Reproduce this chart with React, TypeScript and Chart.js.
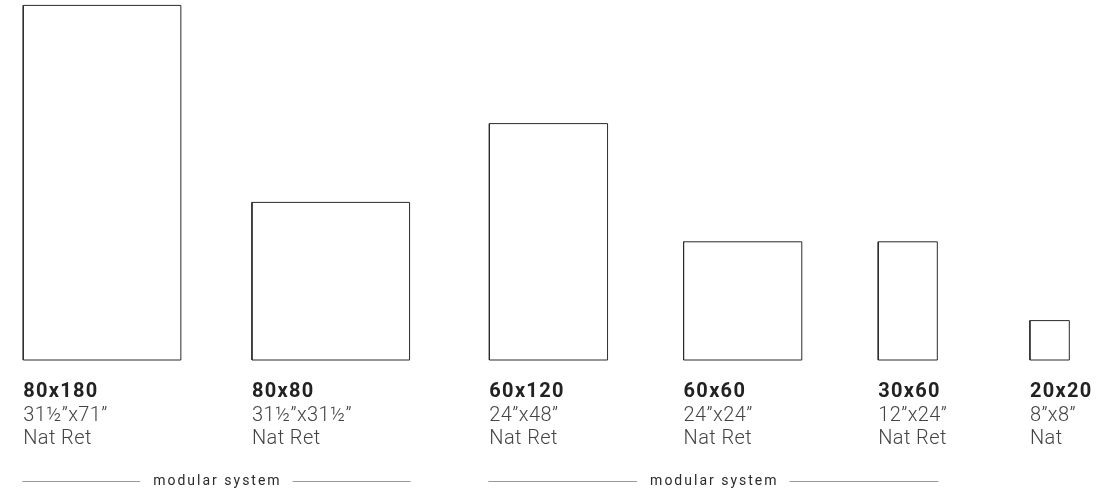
import React, { useEffect, useRef } from "react";
import { Chart, registerables } from "chart.js";

Chart.register(...registerables);

// Tile formats (cm)
const formats = ["80x180", "80x80", "60x120", "60x60", "30x60", "20x20"];
const widthsCm = [80, 80, 60, 60, 30, 20];
const heightsCm = [180, 80, 120, 60, 60, 20];
const inches = ["31½\u201dx71\u201d", "31½\u201dx31½\u201d", "24\u201dx48\u201d", "24\u201dx24\u201d", "12\u201dx24\u201d", "8\u201dx8\u201d"];
const finishes = ["Nat Ret", "Nat Ret", "Nat Ret", "Nat Ret", "Nat Ret", "Nat"];
// left edge of each tile slot along the x axis (cm units)
const slotStart = [11.8, 127.9, 248.4, 347.0, 445.8, 522.8];

// grouping brackets under the labels
const groupLabels = ["modular system", "modular system"];
const groupFirst = [0, 2];
const groupLast = [1, 4];

const W = 1113;
const H = 496;
const PX_PER_CM = 1.97;
const BASE_PX = 360;

const labelPlugin = {
  id: "tileLabels",
  afterDraw(chart: any) {
    const ctx = chart.ctx as CanvasRenderingContext2D;
    const xs = chart.scales.x;
    const ys = chart.scales.y;
    const base = ys.getPixelForValue(0);
    ctx.save();
    ctx.textAlign = "left";
    ctx.textBaseline = "alphabetic";
    for (let i = 0; i < formats.length; i++) {
      const x = xs.getPixelForValue(slotStart[i]);
      ctx.fillStyle = "#222";
      ctx.font = "bold 20px Roboto, 'Liberation Sans', sans-serif";
      (ctx as any).letterSpacing = "1.3px";
      ctx.fillText(formats[i], x, base + 37);
      ctx.fillStyle = "#444";
      ctx.font = "300 20px Roboto, 'Liberation Sans', sans-serif";
      (ctx as any).letterSpacing = "0.4px";
      ctx.fillText(inches[i], x, base + 61);
      ctx.fillText(finishes[i], x, base + 84);
    }
    // group brackets
    ctx.font = "14px Roboto, 'Liberation Sans', sans-serif";
    (ctx as any).letterSpacing = "2px";
    ctx.textAlign = "center";
    ctx.textBaseline = "middle";
    const ly = Math.round(base + 121) + 0.5;
    for (let g = 0; g < groupLabels.length; g++) {
      const x0 = xs.getPixelForValue(slotStart[groupFirst[g]]) - 1;
      const li = groupLast[g];
      const x1 = xs.getPixelForValue(slotStart[li] + widthsCm[li]) + 1;
      const cx = (x0 + x1) / 2;
      const tw = ctx.measureText(groupLabels[g]).width;
      ctx.fillStyle = "#2a2a2a";
      ctx.fillText(groupLabels[g], cx + 1, ly);
      ctx.strokeStyle = "#999";
      ctx.lineWidth = 1;
      ctx.beginPath();
      ctx.moveTo(x0, ly);
      ctx.lineTo(cx - tw / 2 - 12, ly);
      ctx.moveTo(cx + tw / 2 + 12, ly);
      ctx.lineTo(x1, ly);
      ctx.stroke();
    }
    ctx.restore();
  },
};

export default function App() {
  const ref = useRef<HTMLCanvasElement | null>(null);
  useEffect(() => {
    if (!ref.current) return;
    const datasets = formats.map((f, i) => {
      const x0 = slotStart[i];
      const x1 = x0 + widthsCm[i];
      const h = heightsCm[i];
      return {
        label: f,
        data: [
          { x: x0, y: 0 },
          { x: x1, y: 0 },
          { x: x1, y: h },
          { x: x0, y: h },
          { x: x0, y: 0 },
        ],
        showLine: true,
        borderColor: "#2a2a2a",
        borderWidth: 1,
        pointRadius: 0,
        fill: false,
        tension: 0,
      };
    });
    const chart = new Chart(ref.current, {
      type: "scatter",
      data: { datasets },
      options: {
        animation: false,
        responsive: false,
        layout: { padding: 0 },
        plugins: { legend: { display: false }, tooltip: { enabled: false } },
        scales: {
          x: { type: "linear", display: false, min: 0, max: W / PX_PER_CM },
          y: { type: "linear", display: false, min: -(H - BASE_PX) / PX_PER_CM, max: BASE_PX / PX_PER_CM },
        },
      },
      plugins: [labelPlugin],
    } as any);
    return () => chart.destroy();
  }, []);
  return (
    <div style={{ position: "absolute", left: 0, top: 0, width: W, height: H, background: "#fff" }}>
      <canvas ref={ref} width={W} height={H} style={{ display: "block" }} />
    </div>
  );
}
